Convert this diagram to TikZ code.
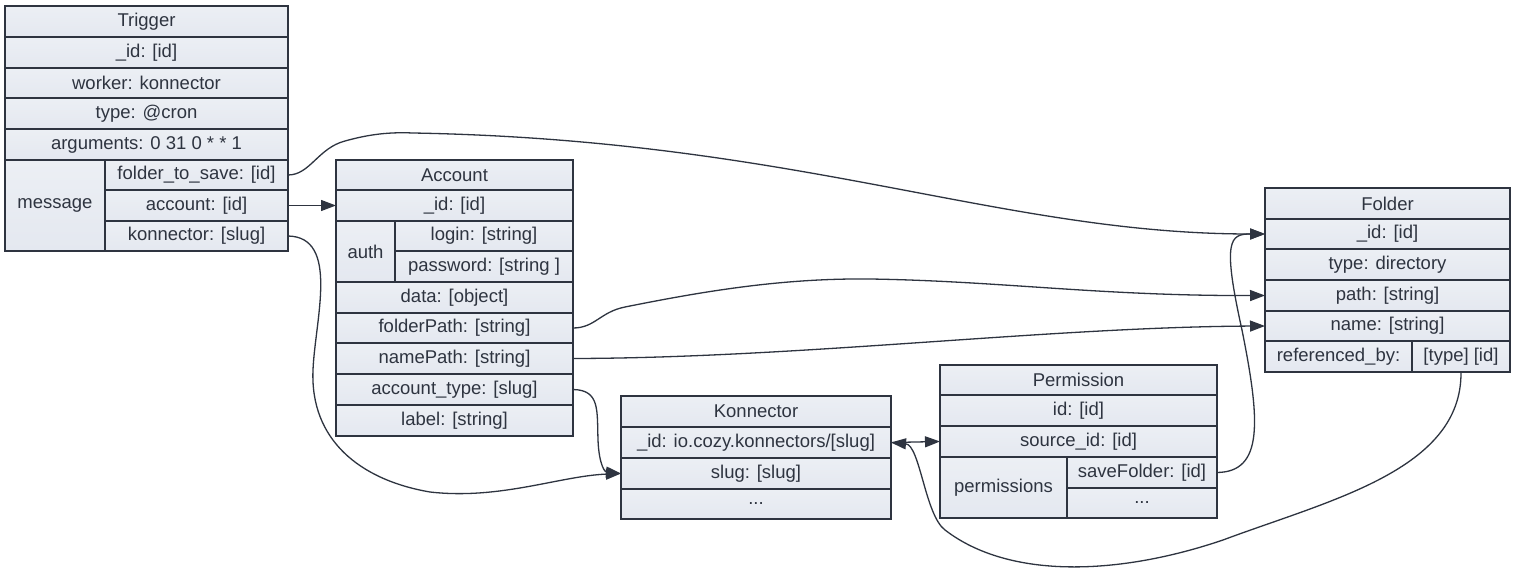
\documentclass[tikz,border=0pt]{standalone}
\usepackage{fontspec}
\setmainfont{Liberation Sans}
\usetikzlibrary{arrows.meta}
\definecolor{ink}{HTML}{2E3440}
\definecolor{celltop}{HTML}{ECEFF4}
\definecolor{cellbot}{HTML}{E4E8F0}
\tikzset{
  cell/.style={draw=ink, line width=1.3pt, top color=celltop, bottom color=cellbot,
    anchor=north west, inner sep=0pt, outer sep=0pt, text=ink,
    font=\fontsize{18.5}{22}\selectfont},
  link/.style={draw=ink, line width=1.3pt, -{Triangle[length=15pt,width=11pt]}},
}
\begin{document}
\begin{tikzpicture}[x=1pt,y=-1pt]
\useasboundingbox[fill=white] (0,0) rectangle (1516,575);
% Trigger
\node[cell, minimum width=283, minimum height=31] (T0) at (5,6) {Trigger};
\node[cell, minimum width=283, minimum height=31] (T1) at (5,37) {\_id: [id]};
\node[cell, minimum width=283, minimum height=30] (T2) at (5,68) {worker: konnector};
\node[cell, minimum width=283, minimum height=31] (T3) at (5,98) {type: @cron};
\node[cell, minimum width=283, minimum height=31] (T4) at (5,129) {arguments: 0 31 0 * * 1};
\node[cell, minimum width=100, minimum height=91] (Tm) at (5,160) {message};
\node[cell, minimum width=183, minimum height=30] (Tf) at (105,160) {folder\_to\_save: [id]};
\node[cell, minimum width=183, minimum height=31] (Ta) at (105,190) {account: [id]};
\node[cell, minimum width=183, minimum height=30] (Tk) at (105,221) {konnector: [slug]};
% Account
\node[cell, minimum width=237, minimum height=30] (A0) at (336,160) {Account};
\node[cell, minimum width=237, minimum height=31] (A1) at (336,190) {\_id: [id]};
\node[cell, minimum width=59, minimum height=61] (Aa) at (336,221) {auth};
\node[cell, minimum width=178, minimum height=30] (Al) at (395,221) {login: [string]};
\node[cell, minimum width=178, minimum height=31] (Ap) at (395,251) {password: [string ]};
\node[cell, minimum width=237, minimum height=31] (A2) at (336,282) {data: [object]};
\node[cell, minimum width=237, minimum height=30] (A3) at (336,313) {folderPath: [string]};
\node[cell, minimum width=237, minimum height=31] (A4) at (336,343) {namePath: [string]};
\node[cell, minimum width=237, minimum height=31] (A5) at (336,374) {account\_type: [slug]};
\node[cell, minimum width=237, minimum height=31] (A6) at (336,405) {label: [string]};
% Folder
\node[cell, minimum width=245, minimum height=31] (F0) at (1265,188) {Folder};
\node[cell, minimum width=245, minimum height=30] (F1) at (1265,219) {\_id: [id]};
\node[cell, minimum width=245, minimum height=31] (F2) at (1265,249) {type: directory};
\node[cell, minimum width=245, minimum height=31] (F3) at (1265,280) {path: [string]};
\node[cell, minimum width=245, minimum height=30] (F4) at (1265,311) {name: [string]};
\node[cell, minimum width=147, minimum height=31] (Fr) at (1265,341) {referenced\_by:};
\node[cell, minimum width=98, minimum height=31] (Ft) at (1412,341) {[type] [id]};
% Permission
\node[cell, minimum width=277, minimum height=30] (P0) at (940,365) {Permission};
\node[cell, minimum width=277, minimum height=31] (P1) at (940,395) {id: [id]};
\node[cell, minimum width=277, minimum height=31] (P2) at (940,426) {source\_id: [id]};
\node[cell, minimum width=127, minimum height=61] (Pp) at (940,457) {permissions};
\node[cell, minimum width=150, minimum height=31] (Ps) at (1067,457) {saveFolder: [id]};
\node[cell, minimum width=150, minimum height=30] (Pd) at (1067,488) {...};
% Konnector
\node[cell, minimum width=270, minimum height=31] (K0) at (621,396) {Konnector};
\node[cell, minimum width=270, minimum height=31] (K1) at (621,427) {\_id: io.cozy.konnectors/[slug]};
\node[cell, minimum width=270, minimum height=31] (K2) at (621,458) {slug: [slug]};
\node[cell, minimum width=270, minimum height=30] (K3) at (621,489) {...};
% waypoints
\coordinate (w1) at (345,141);
\coordinate (w2) at (413,133);
\coordinate (w3) at (313,370);
\coordinate (w4) at (430,492);
\coordinate (w5) at (625,307);
\coordinate (w6) at (870,279);
\coordinate (w7) at (598,440);
\coordinate (w8) at (1242,330);
\coordinate (w9) at (1223,540);
\coordinate (w10) at (945,530);
% connectors
\draw[link] (Tf.east) .. controls (310,175) and (318,148) .. (w1)
  .. controls (370,134) and (390,132) .. (w2)
  .. controls (800,140) and (1000,234) .. (F1.west);
\draw[link] (Ta.east) -- (A1.west);
\draw[link] (Tk.east) .. controls (340,237) and (315,320) .. (w3)
  .. controls (310,440) and (360,480) .. (w4)
  .. controls (500,500) and (560,476) .. (K2.west);
\draw[link] (A3.east) .. controls (595,328) and (600,312) .. (w5)
  .. controls (700,292) and (780,278) .. (w6)
  .. controls (1000,281) and (1100,296) .. (F3.west);
\draw[link] (A4.east) .. controls (800,358) and (1050,327) .. (F4.west);
\draw[link] (A5.east) .. controls (600,390) and (597,410) .. (w7)
  .. controls (599,465) and (605,472) .. (K2.west);
\draw[link] (K1.east) -- (P2.west);
\draw[link] (Ps.east) .. controls (1264,472) and (1260,420) .. (w8)
  .. controls (1222,240) and (1230,234) .. (F1.west);
\draw[link] (Ft.south) .. controls (1462,470) and (1330,500) .. (w9)
  .. controls (1120,575) and (1010,580) .. (w10)
  .. controls (925,515) and (920,445) .. (K1.east);
\end{tikzpicture}
\end{document}
